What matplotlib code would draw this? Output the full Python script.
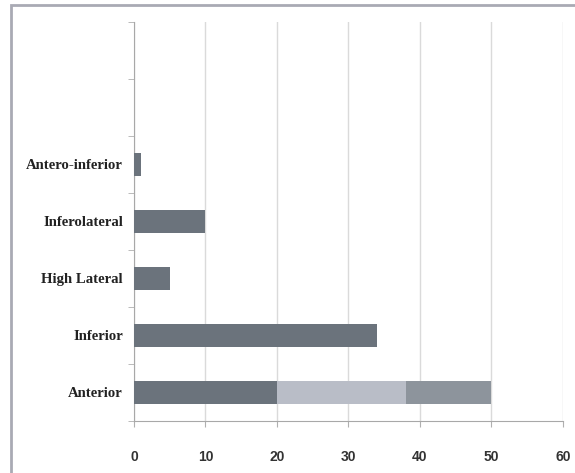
import matplotlib.pyplot as plt
from matplotlib.patches import Rectangle

# categories from bottom to top, two empty slots on top
categories = ["Anterior", "Inferior", "High Lateral", "Inferolateral", "Antero-inferior", "", ""]
first_part = [20, 34, 5, 10, 1, 0, 0]
second_part = [18, 0, 0, 0, 0, 0, 0]
third_part = [12, 0, 0, 0, 0, 0, 0]
x_ticks = [0, 10, 20, 30, 40, 50, 60]

dark = "#6b737c"
light = "#b9bdc7"
mid = "#8d949c"

fig = plt.figure(figsize=(5.75, 4.73), dpi=100)
ax = fig.add_axes([0.233, 0.110, 0.746, 0.8435])

pos = list(range(len(categories)))
left2 = [a for a in first_part]
left3 = [a + b for a, b in zip(first_part, second_part)]
ax.barh(pos, first_part, height=0.4, color=dark, zorder=3)
ax.barh(pos, second_part, left=left2, height=0.4, color=light, zorder=3)
ax.barh(pos, third_part, left=left3, height=0.4, color=mid, zorder=3)

ax.set_xlim(0, 60)
ax.set_ylim(-0.5, len(categories) - 0.5)
ax.set_xticks(x_ticks)
ax.set_xticklabels([str(t) for t in x_ticks], fontfamily="Liberation Sans",
                   fontsize=10, fontweight="bold", color="#333333")
ax.set_yticks(pos)
ax.set_yticklabels(categories, fontfamily="Liberation Serif", fontsize=10.6,
                   fontweight="bold", color="#222222")
ax.set_yticks([p - 0.5 for p in pos] + [len(categories) - 0.5], minor=True)

ax.tick_params(axis="y", which="major", length=0, pad=8)
ax.tick_params(axis="y", which="minor", length=4, color="#b0b0b0", direction="out")
ax.tick_params(axis="x", length=4, color="#b0b0b0", direction="out", pad=17)

ax.grid(axis="x", color="#dadada", linewidth=1, zorder=0)
for side in ["top", "right"]:
    ax.spines[side].set_visible(False)
ax.spines["left"].set_color("#a8a8a8")
ax.spines["bottom"].set_color("#a8a8a8")

# outer frame, runs off the right and bottom of the picture
fig.patches.append(Rectangle((11 / 575, -0.05), 1.2, 1 - 5 / 473 + 0.05,
                             transform=fig.transFigure, fill=False,
                             edgecolor="#a9aab4", linewidth=2))

fig.savefig("out.png", dpi=100)
